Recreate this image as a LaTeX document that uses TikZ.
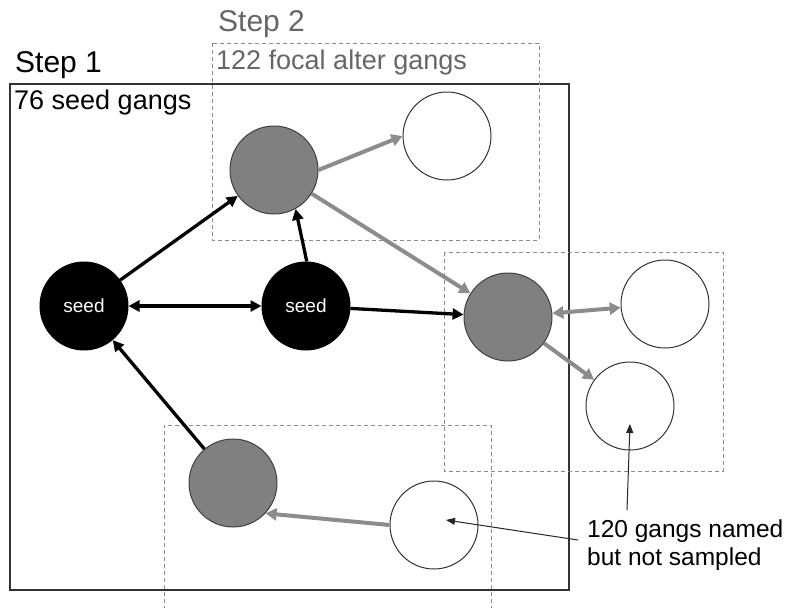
\documentclass[tikz,border=0pt]{standalone}
\usepackage{fontspec}
\setmainfont{Liberation Sans}
\usetikzlibrary{arrows.meta}
\begin{document}
\begin{tikzpicture}[x=1pt,y=-1pt,
  circ/.style={circle,minimum size=88pt,inner sep=0pt,line width=1pt},
  seedc/.style={circ,fill=black,draw=black,text=white,font=\fontsize{19}{22}\selectfont},
  greyc/.style={circ,fill=black!50,draw=black!75},
  whitec/.style={circ,fill=white,draw=black!80},
  blk/.style={line width=3.3pt,black,-{Triangle[length=11pt,width=11pt]}},
  blkb/.style={line width=3.3pt,black,{Triangle[length=11pt,width=11pt]}-{Triangle[length=11pt,width=11pt]}},
  gry/.style={line width=4pt,black!45,-{Triangle[length=11pt,width=12pt]}},
  gryb/.style={line width=4pt,black!45,{Triangle[length=11pt,width=12pt]}-{Triangle[length=11pt,width=12pt]}},
  dbox/.style={draw=black!45,line width=1pt,dash pattern=on 4pt off 3pt},
  ann/.style={line width=1pt,black!85,-{Triangle[length=9pt,width=7pt]}},
  lbl/.style={inner sep=0pt,anchor=base west}
]
\useasboundingbox (0,0) rectangle (785,608);
% boxes
\draw[black!80,line width=1.3pt] (10,84) rectangle (569,590);
\draw[dbox] (212,43) rectangle (539,240);
\draw[dbox] (444,252) rectangle (723,471);
\draw[dbox] (164,610) -- (164,425) -- (491,425) -- (491,610);
% labels
\node[lbl,font=\fontsize{30}{34}\selectfont] (s1) at (15,72) {Step 1};
\node[lbl,font=\fontsize{30}{34}\selectfont,text=black!60] (s2) at (218,31) {Step 2};
\node[lbl,font=\fontsize{27}{32}\selectfont] (seedg) at (14,109) {76 seed gangs};
\node[lbl,font=\fontsize{27}{32}\selectfont,text=black!60] (focal) at (216,69) {122 focal alter gangs};
% circles
\node[seedc] (sd1) at (84,306) {seed};
\node[seedc] (sd2) at (306,306) {seed};
\node[greyc] (gtop) at (274,170) {};
\node[whitec] (wtop) at (447,136) {};
\node[greyc] (gmid) at (508,317) {};
\node[whitec] (wright) at (665,304) {};
\node[whitec] (wlow) at (630,406) {};
\node[greyc] (gbot) at (233,483) {};
\node[whitec] (wbot) at (434,525) {};
% black arrows
\draw[blk] (sd1) -- (gtop);
\draw[blkb] (sd1) -- (sd2);
\draw[blk] (sd2.89) -- (gtop.-61);
\draw[blk] (sd2) -- (gmid);
\draw[blk] (gbot) -- (sd1);
% grey arrows
\draw[gry] (gtop.0) -- (wtop.180);
\draw[gry] (gtop) -- (gmid);
\draw[gryb] (gmid) -- (wright);
\draw[gry] (gmid) -- (wlow);
\draw[gry] (wbot.180) -- (gbot.-43);
% annotation
\node[inner sep=0pt,anchor=base west,align=left,font=\fontsize{24.5}{28}\selectfont] (note) at (587,565) {120 gangs named\\but not sampled};
\coordinate (n1) at (627,510);
\coordinate (n2) at (578,540);
\coordinate (t1) at (630,424);
\coordinate (t2) at (446,520);
\draw[ann] (n1) -- (t1);
\draw[ann] (n2) -- (t2);
\end{tikzpicture}
\end{document}
